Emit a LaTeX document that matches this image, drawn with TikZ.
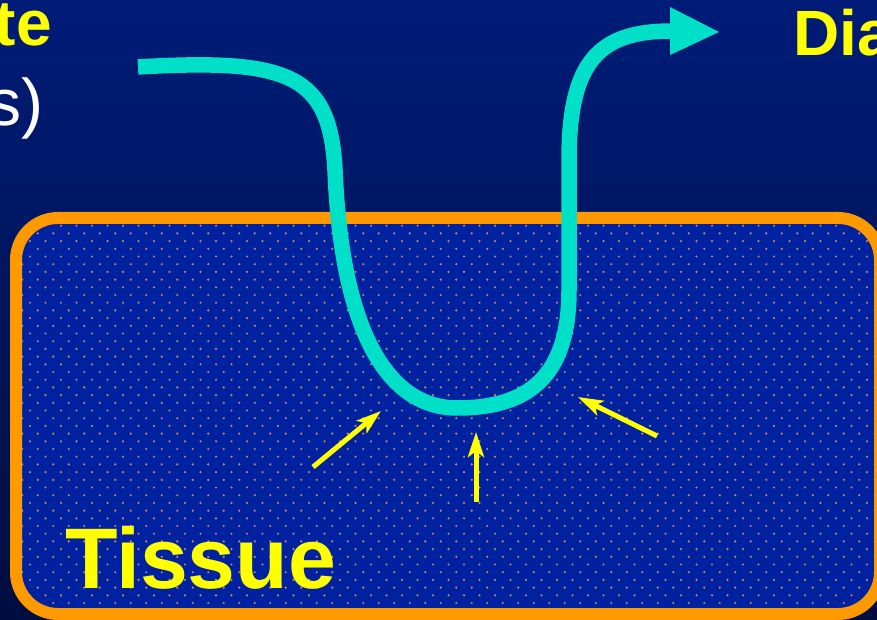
\documentclass[tikz,border=0pt]{standalone}
\usepackage{fontspec}
\setmainfont{Liberation Sans}
\usetikzlibrary{arrows.meta}
\definecolor{bgtop}{RGB}{0,28,120}
\definecolor{bgbot}{RGB}{0,13,64}
\definecolor{tissuefill}{RGB}{0,34,160}
\definecolor{tissueedge}{RGB}{255,153,0}
\definecolor{dotcol}{RGB}{205,135,95}
\definecolor{flow}{RGB}{0,223,200}
\definecolor{yel}{RGB}{255,255,0}
\tikzset{
  ptr/.style={yel, line width=5pt, -{Stealth[length=25pt,width=16pt,inset=6pt]}},
  bigtxt/.style={inner sep=0pt, text=yel, font=\bfseries\fontsize{64}{64}\selectfont},
}
\begin{document}
\begin{tikzpicture}[x=1pt,y=-1pt]
\useasboundingbox (0,0) rectangle (877,620);
\shade[top color=bgtop,bottom color=bgbot] (0,0) rectangle (877,620);
% tissue block
\fill[tissuefill, rounded corners=42pt] (16,218) rectangle (880,614);
\begin{scope}
\clip[rounded corners=36pt] (22,224) rectangle (874,608);
\foreach \r in {0,...,50} {
  \pgfmathsetmacro{\yy}{225.7+\r*7.7}
  \pgfmathsetmacro{\xo}{mod(\r,2)==0 ? 14.5 : 6.75}
  \fill[dotcol] \foreach \c in {0,...,57} {(\xo+\c*15.5,\yy) circle (1.2pt)};
}
\end{scope}
\draw[tissueedge, line width=12pt, rounded corners=42pt] (16,218) rectangle (880,614);
% flow path
\coordinate (fin) at (138,67);
\coordinate (fl1) at (335,170);
\coordinate (fbot) at (457,408);
\coordinate (fr1) at (569,290);
\coordinate (fr2) at (569,160);
\coordinate (fout) at (672,31);
\draw[flow, line width=15.5pt] (fin) .. controls (290,58) and (330,75) .. (fl1)
  .. controls (342,340) and (392,408) .. (fbot)
  .. controls (530,408) and (569,375) .. (fr1) -- (fr2)
  .. controls (569,60) and (600,31) .. (fout);
\fill[flow] (670,7) -- (719,32) -- (670,55) -- cycle;
% yellow arrows
\coordinate (a1s) at (313,467); \coordinate (a1e) at (381,411);
\coordinate (a2s) at (476,502); \coordinate (a2e) at (476,432);
\coordinate (a3s) at (657,436); \coordinate (a3e) at (578,397);
\draw[ptr] (a1s) -- (a1e);
\draw[ptr] (a2s) -- (a2e);
\draw[ptr] (a3s) -- (a3e);
% texts
\node[bigtxt, anchor=base east] (te) at (52,46) {te};
\node[inner sep=0pt, text=white, font=\fontsize{66}{66}\selectfont, anchor=base east] (s) at (44,126) {s)};
\node[bigtxt, anchor=base west] (dia) at (793,56) {Dia};
\node[inner sep=0pt, text=yel, font=\bfseries\fontsize{86}{86}\selectfont, anchor=base west] (tissue) at (65,588) {Tissue};
\end{tikzpicture}
\end{document}
